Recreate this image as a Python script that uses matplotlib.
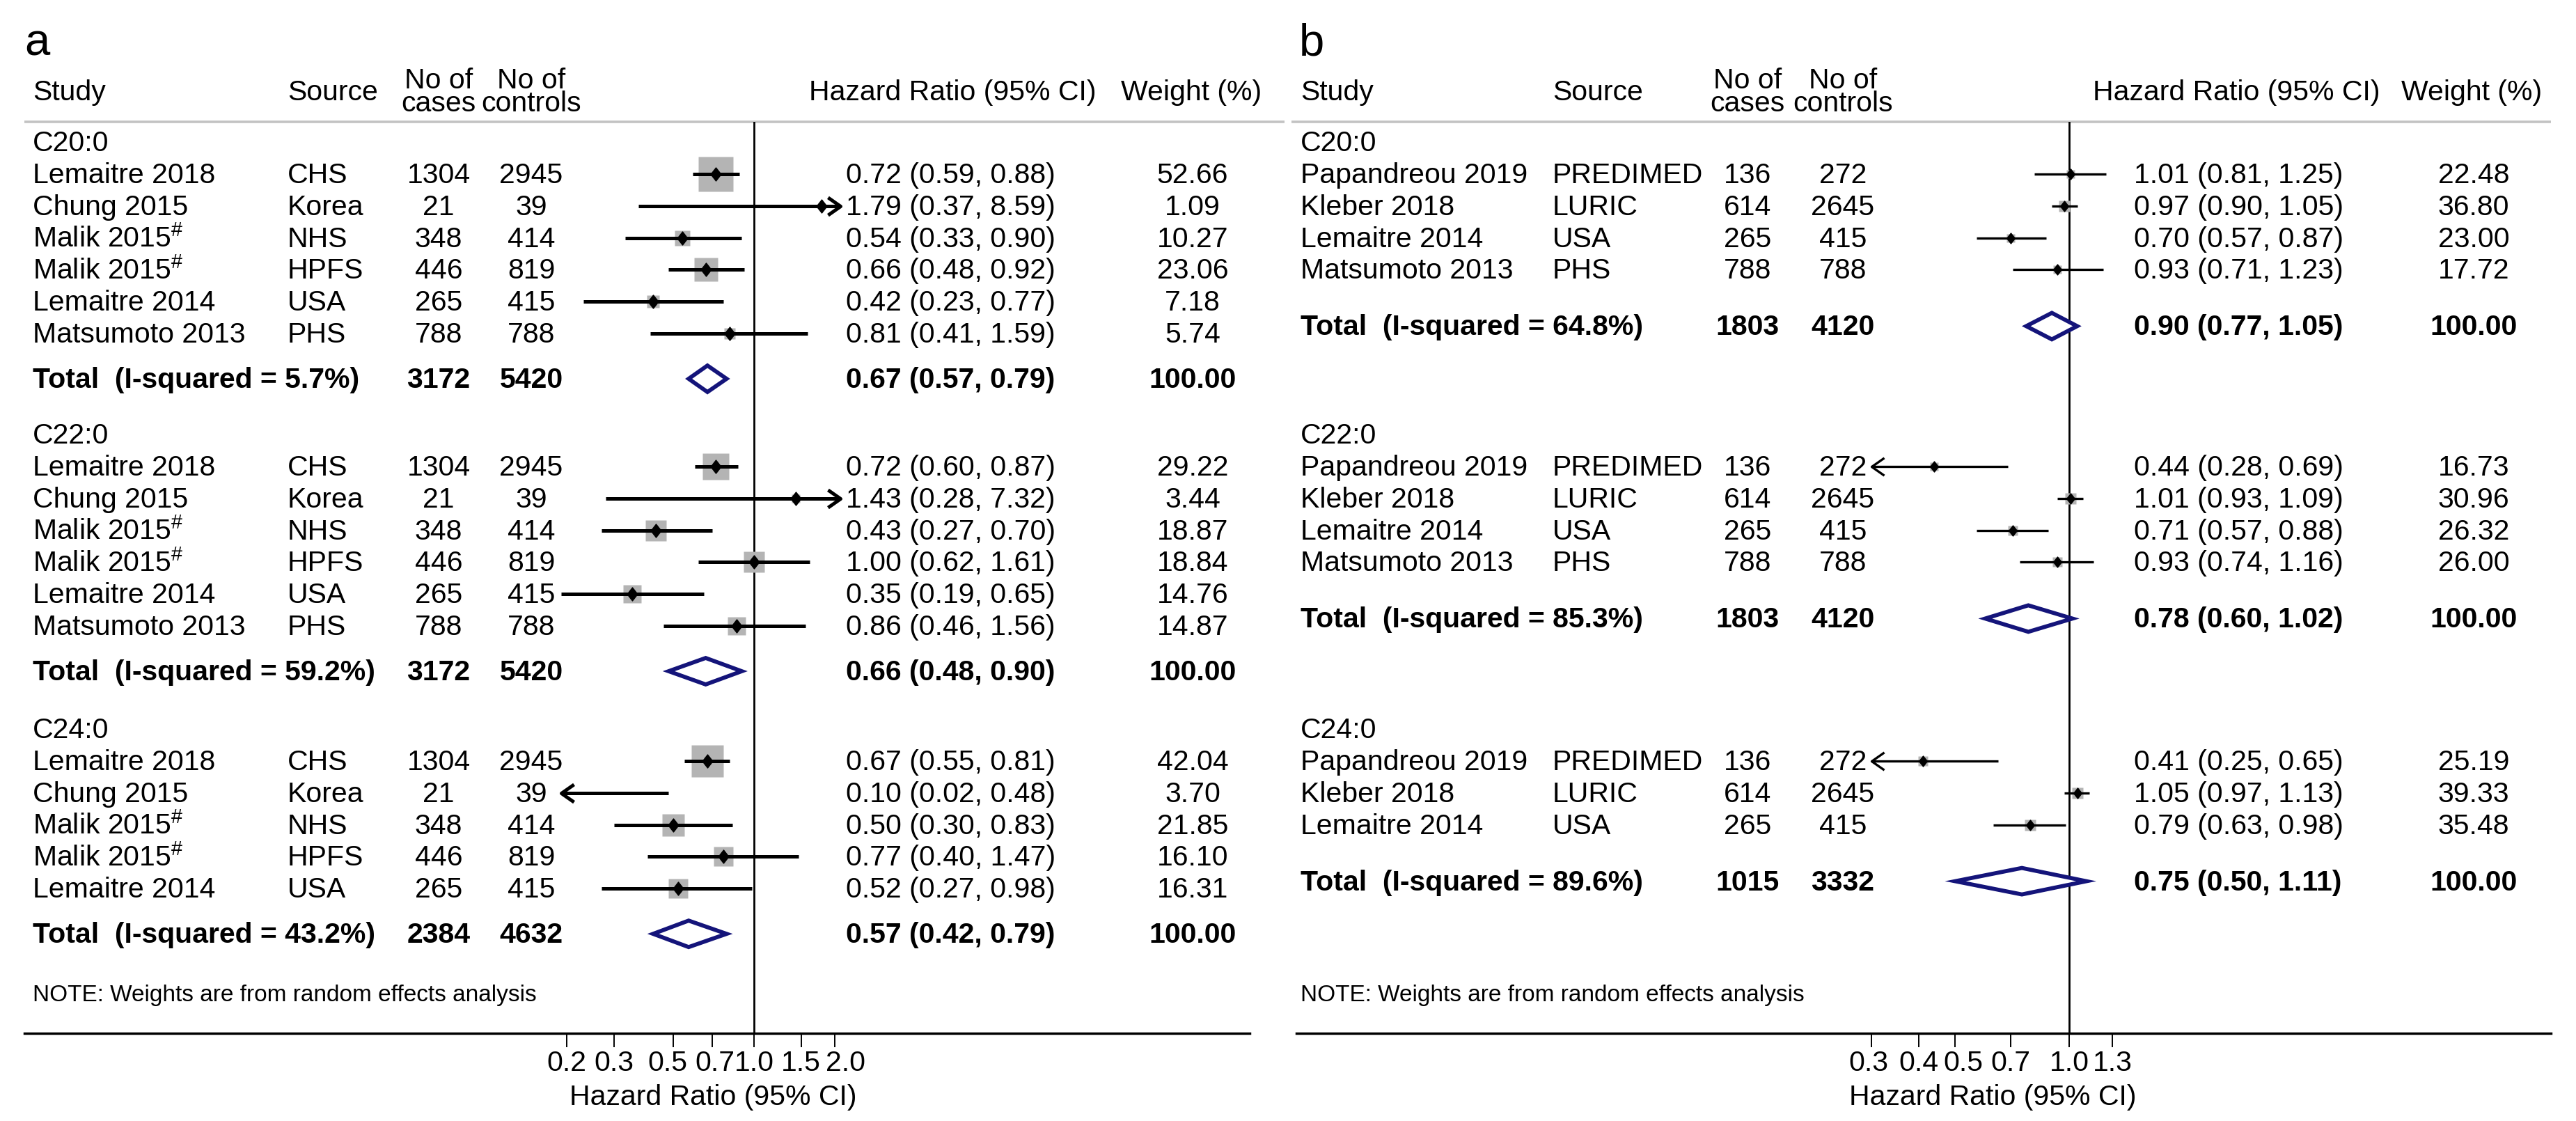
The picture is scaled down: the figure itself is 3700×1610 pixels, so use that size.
import numpy as np
import matplotlib
matplotlib.use('Agg')
import matplotlib.pyplot as plt
from matplotlib.path import Path
from matplotlib.ticker import NullLocator
from matplotlib.transforms import ScaledTranslation

plt.rcParams['font.family'] = ['Liberation Sans', 'DejaVu Sans']
plt.rcParams['mathtext.fontset'] = 'custom'
plt.rcParams['mathtext.rm'] = 'Liberation Sans'
plt.rcParams['mathtext.it'] = 'Liberation Sans:italic'
plt.rcParams['mathtext.bf'] = 'Liberation Sans:bold'

# ---------------- Panel a data ----------------
A_GROUPS = ['C20:0', 'C22:0', 'C24:0']
A_GROUP_OF = [0, 0, 0, 0, 0, 0, 1, 1, 1, 1, 1, 1, 2, 2, 2, 2, 2]
A_STUDY = ['Lemaitre 2018', 'Chung 2015', 'Malik 2015#', 'Malik 2015#', 'Lemaitre 2014', 'Matsumoto 2013',
           'Lemaitre 2018', 'Chung 2015', 'Malik 2015#', 'Malik 2015#', 'Lemaitre 2014', 'Matsumoto 2013',
           'Lemaitre 2018', 'Chung 2015', 'Malik 2015#', 'Malik 2015#', 'Lemaitre 2014']
A_SOURCE = ['CHS', 'Korea', 'NHS', 'HPFS', 'USA', 'PHS',
            'CHS', 'Korea', 'NHS', 'HPFS', 'USA', 'PHS',
            'CHS', 'Korea', 'NHS', 'HPFS', 'USA']
A_CASES = [1304, 21, 348, 446, 265, 788, 1304, 21, 348, 446, 265, 788, 1304, 21, 348, 446, 265]
A_CONTROLS = [2945, 39, 414, 819, 415, 788, 2945, 39, 414, 819, 415, 788, 2945, 39, 414, 819, 415]
A_HR = [0.72, 1.79, 0.54, 0.66, 0.42, 0.81, 0.72, 1.43, 0.43, 1.00, 0.35, 0.86, 0.67, 0.10, 0.50, 0.77, 0.52]
A_LO = [0.59, 0.37, 0.33, 0.48, 0.23, 0.41, 0.60, 0.28, 0.27, 0.62, 0.19, 0.46, 0.55, 0.02, 0.30, 0.40, 0.27]
A_HI = [0.88, 8.59, 0.90, 0.92, 0.77, 1.59, 0.87, 7.32, 0.70, 1.61, 0.65, 1.56, 0.81, 0.48, 0.83, 1.47, 0.98]
A_WEIGHT = [52.66, 1.09, 10.27, 23.06, 7.18, 5.74, 29.22, 3.44, 18.87, 18.84, 14.76, 14.87,
            42.04, 3.70, 21.85, 16.10, 16.31]
A_TOTAL_I2 = [5.7, 59.2, 43.2]
A_TOTAL_CASES = [3172, 3172, 2384]
A_TOTAL_CONTROLS = [5420, 5420, 4632]
A_TOTAL_HR = [0.67, 0.66, 0.57]
A_TOTAL_LO = [0.57, 0.48, 0.42]
A_TOTAL_HI = [0.79, 0.90, 0.79]
A_TICKS = [0.2, 0.3, 0.5, 0.7, 1.0, 1.5, 2.0]
A_RANGE = [0.19, 2.1]

# ---------------- Panel b data ----------------
B_GROUPS = ['C20:0', 'C22:0', 'C24:0']
B_GROUP_OF = [0, 0, 0, 0, 1, 1, 1, 1, 2, 2, 2]
B_STUDY = ['Papandreou 2019', 'Kleber 2018', 'Lemaitre 2014', 'Matsumoto 2013',
           'Papandreou 2019', 'Kleber 2018', 'Lemaitre 2014', 'Matsumoto 2013',
           'Papandreou 2019', 'Kleber 2018', 'Lemaitre 2014']
B_SOURCE = ['PREDIMED', 'LURIC', 'USA', 'PHS', 'PREDIMED', 'LURIC', 'USA', 'PHS',
            'PREDIMED', 'LURIC', 'USA']
B_CASES = [136, 614, 265, 788, 136, 614, 265, 788, 136, 614, 265]
B_CONTROLS = [272, 2645, 415, 788, 272, 2645, 415, 788, 272, 2645, 415]
B_HR = [1.01, 0.97, 0.70, 0.93, 0.44, 1.01, 0.71, 0.93, 0.41, 1.05, 0.79]
B_LO = [0.81, 0.90, 0.57, 0.71, 0.28, 0.93, 0.57, 0.74, 0.25, 0.97, 0.63]
B_HI = [1.25, 1.05, 0.87, 1.23, 0.69, 1.09, 0.88, 1.16, 0.65, 1.13, 0.98]
B_WEIGHT = [22.48, 36.80, 23.00, 17.72, 16.73, 30.96, 26.32, 26.00, 25.19, 39.33, 35.48]
B_TOTAL_I2 = [64.8, 85.3, 89.6]
B_TOTAL_CASES = [1803, 1803, 1015]
B_TOTAL_CONTROLS = [4120, 4120, 3332]
B_TOTAL_HR = [0.90, 0.78, 0.75]
B_TOTAL_LO = [0.77, 0.60, 0.50]
B_TOTAL_HI = [1.05, 1.02, 1.11]
B_TICKS = [0.3, 0.4, 0.5, 0.7, 1.0, 1.3]
B_RANGE = [0.3, 1.3]

NOTE = 'NOTE: Weights are from random effects analysis'
XLABEL = 'Hazard Ratio (95% CI)'

# ---------------- layout / style ----------------
W, H = 3700, 1610
FS = 29.5
FS_NOTE = 24
FS_LETTER = 47
AX_TOP, AX_BOTTOM = 175, 1484
HEADER_Y = [204, 624, 1047]
FIRST_OFF = 46
ROW_STEP = 45.8
BASE_OFF = 13
NAVY = '#14147a'
BOX_GREY = '#b4b4b4'

PANEL_A = dict(letter='a', letter_x=35, study_x=47, source_x=413, cases_cx=630, controls_cx=763,
               hr_x=1215, weight_cx=1713, hr_head_x=1162, weight_head_x=1610,
               ax_left=35, ax_right=1795, x_one=1083, ppl=167.0, total_gap=65,
               box_k=7.0, ci_lw=3.6, pt_ms=13.7, arrow_ms=26, line_left=35, line_right=1845,
               xlabel_cx=1024, tick_nudge=[0, 0, -8, 4, 0, 0, 16])
PANEL_B = dict(letter='b', letter_x=1866, study_x=1868, source_x=2230, cases_cx=2510, controls_cx=2647,
               hr_x=3065, weight_cx=3553, hr_head_x=3006, weight_head_x=3449,
               ax_left=1862, ax_right=3664, x_one=2972, ppl=236.0, total_gap=81,
               box_k=2.7, ci_lw=2.4, pt_ms=10.8, arrow_ms=26, line_left=1855, line_right=3664,
               xlabel_cx=2862, tick_nudge=[-4, 0, 11, 0, 0, 0])

DIAMOND_PT = Path([(0, 1), (0.78, 0), (0, -1), (-0.78, 0), (0, 1)],
                  [Path.MOVETO, Path.LINETO, Path.LINETO, Path.LINETO, Path.CLOSEPOLY])
ARROW_L = Path([(1, 0.7), (0, 0), (1, -0.7)], [Path.MOVETO, Path.LINETO, Path.LINETO])
ARROW_R = Path([(-1, 0.7), (0, 0), (-1, -0.7)], [Path.MOVETO, Path.LINETO, Path.LINETO])

fig = plt.figure(figsize=(W / 100, H / 100), dpi=100)
cv = fig.add_axes([0, 0, 1, 1])
cv.set_xlim(0, W)
cv.set_ylim(H, 0)
cv.axis('off')


def study_label(s):
    if s.endswith('#'):
        return s[:-1] + r'$^{\#}$'
    return s


def draw_panel(P, groups, group_of, study, source, cases, controls, hr, lo, hi, weight,
               t_i2, t_cases, t_controls, t_hr, t_lo, t_hi, ticks, rng):
    # panel letter and headers
    cv.text(P['letter_x'], 80, P['letter'], fontsize=FS_LETTER, va='baseline', ha='left')
    cv.text(P['study_x'], 144, 'Study', fontsize=FS, va='baseline', ha='left')
    cv.text(P['source_x'], 144, 'Source', fontsize=FS, va='baseline', ha='left')
    cv.text(P['cases_cx'], 127, 'No of', fontsize=FS, va='baseline', ha='center')
    cv.text(P['cases_cx'], 160, 'cases', fontsize=FS, va='baseline', ha='center')
    cv.text(P['controls_cx'], 127, 'No of', fontsize=FS, va='baseline', ha='center')
    cv.text(P['controls_cx'], 160, 'controls', fontsize=FS, va='baseline', ha='center')
    cv.text(P['hr_head_x'], 144, 'Hazard Ratio (95% CI)', fontsize=FS, va='baseline', ha='left')
    cv.text(P['weight_head_x'], 144, 'Weight (%)', fontsize=FS, va='baseline', ha='left')
    cv.plot([P['line_left'], P['line_right']], [AX_TOP, AX_TOP], color='#c3c3c3', lw=2.6,
            solid_capstyle='butt')
    cv.text(P['study_x'], 1438, NOTE, fontsize=FS_NOTE, va='baseline', ha='left')
    cv.text(P['xlabel_cx'], 1587, XLABEL, fontsize=FS, va='baseline', ha='center')

    ax = fig.add_axes([P['ax_left'] / W, 1 - AX_BOTTOM / H,
                       (P['ax_right'] - P['ax_left']) / W, (AX_BOTTOM - AX_TOP) / H])
    ax.patch.set_alpha(0)
    ax.set_xscale('log')
    ax.set_xlim(np.exp((P['ax_left'] - P['x_one']) / P['ppl']),
                np.exp((P['ax_right'] - P['x_one']) / P['ppl']))
    ax.set_ylim(AX_BOTTOM, AX_TOP)
    for s in ['top', 'left', 'right']:
        ax.spines[s].set_visible(False)
    ax.spines['bottom'].set_linewidth(2.5)
    ax.set_yticks([])
    ax.set_xticks(ticks)
    ax.set_xticklabels([f'{t:.1f}' for t in ticks])
    ax.xaxis.set_minor_locator(NullLocator())
    ax.tick_params(axis='x', length=14.4, width=1.4, pad=3, labelsize=FS)
    for lab, dx in zip(ax.get_xticklabels(), P['tick_nudge']):
        lab.set_transform(lab.get_transform() + ScaledTranslation(dx / 100, 0, fig.dpi_scale_trans))
    ax.axvline(1.0, color='black', lw=2.0, zorder=1)

    rmin, rmax = rng
    counters = [0] * len(groups)
    last_y = [0.0] * len(groups)
    for g, name in enumerate(groups):
        cv.text(P['study_x'], HEADER_Y[g] + BASE_OFF, name, fontsize=FS, va='baseline', ha='left')
    for i in range(len(study)):
        g = group_of[i]
        y = HEADER_Y[g] + FIRST_OFF + counters[g] * ROW_STEP
        counters[g] += 1
        last_y[g] = y
        yb = y + BASE_OFF
        cv.text(P['study_x'], yb, study_label(study[i]), fontsize=FS, va='baseline', ha='left')
        cv.text(P['source_x'], yb, source[i], fontsize=FS, va='baseline', ha='left')
        cv.text(P['cases_cx'], yb, str(cases[i]), fontsize=FS, va='baseline', ha='center')
        cv.text(P['controls_cx'], yb, str(controls[i]), fontsize=FS, va='baseline', ha='center')
        cv.text(P['hr_x'], yb, f'{hr[i]:.2f} ({lo[i]:.2f}, {hi[i]:.2f})', fontsize=FS,
                va='baseline', ha='left')
        cv.text(P['weight_cx'], yb, f'{weight[i]:.2f}', fontsize=FS, va='baseline', ha='center')
        # marks
        side_pt = P['box_k'] * np.sqrt(weight[i]) * 0.72
        if rmin <= hr[i] <= rmax:
            ax.plot([hr[i]], [y], marker='s', ms=side_pt, mfc=BOX_GREY, mec='none', ls='none', zorder=2)
        l_c, h_c = max(lo[i], rmin), min(hi[i], rmax)
        ax.plot([l_c, h_c], [y, y], color='black', lw=P['ci_lw'], solid_capstyle='butt', zorder=3)
        if lo[i] < rmin:
            ax.plot([rmin], [y], marker=ARROW_L, ms=P['arrow_ms'], mfc='none', mec='black',
                    mew=P['ci_lw'], ls='none', zorder=3)
        if hi[i] > rmax:
            ax.plot([rmax], [y], marker=ARROW_R, ms=P['arrow_ms'], mfc='none', mec='black',
                    mew=P['ci_lw'], ls='none', zorder=3)
        if rmin <= hr[i] <= rmax:
            ax.plot([hr[i]], [y], marker=DIAMOND_PT, ms=P['pt_ms'], color='black', ls='none', zorder=4)

    for g in range(len(groups)):
        y = last_y[g] + P['total_gap']
        yb = y + BASE_OFF
        cv.text(P['study_x'], yb, f'Total  (I-squared = {t_i2[g]:.1f}%)', fontsize=FS,
                fontweight='bold', va='baseline', ha='left')
        cv.text(P['cases_cx'], yb, str(t_cases[g]), fontsize=FS, fontweight='bold', va='baseline', ha='center')
        cv.text(P['controls_cx'], yb, str(t_controls[g]), fontsize=FS, fontweight='bold',
                va='baseline', ha='center')
        cv.text(P['hr_x'], yb, f'{t_hr[g]:.2f} ({t_lo[g]:.2f}, {t_hi[g]:.2f})', fontsize=FS,
                fontweight='bold', va='baseline', ha='left')
        cv.text(P['weight_cx'], yb, '100.00', fontsize=FS, fontweight='bold', va='baseline', ha='center')
        hh = 19
        ax.fill([t_lo[g], t_hr[g], t_hi[g], t_hr[g]], [y, y - hh, y, y + hh],
                facecolor='white', edgecolor=NAVY, lw=4.2, joinstyle='miter', zorder=5)
    return ax


draw_panel(PANEL_A, A_GROUPS, A_GROUP_OF, A_STUDY, A_SOURCE, A_CASES, A_CONTROLS, A_HR, A_LO, A_HI,
           A_WEIGHT, A_TOTAL_I2, A_TOTAL_CASES, A_TOTAL_CONTROLS, A_TOTAL_HR, A_TOTAL_LO, A_TOTAL_HI,
           A_TICKS, A_RANGE)
draw_panel(PANEL_B, B_GROUPS, B_GROUP_OF, B_STUDY, B_SOURCE, B_CASES, B_CONTROLS, B_HR, B_LO, B_HI,
           B_WEIGHT, B_TOTAL_I2, B_TOTAL_CASES, B_TOTAL_CONTROLS, B_TOTAL_HR, B_TOTAL_LO, B_TOTAL_HI,
           B_TICKS, B_RANGE)

fig.savefig('out.png', dpi=100, facecolor='white')
